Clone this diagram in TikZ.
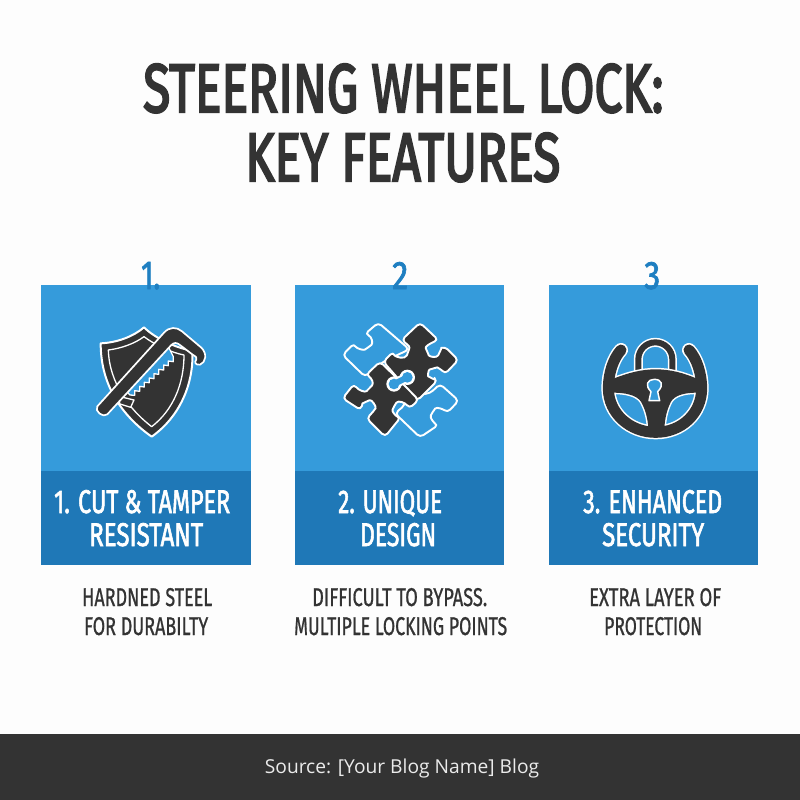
\documentclass[tikz,border=0pt]{standalone}
\usepackage{fontspec}
\usepackage{graphicx}
\setmainfont{Fira Sans}
\newfontfamily\heavyface{Fira Sans}[FakeBold=3.5]
\newfontfamily\headface{Fira Sans}[FakeBold=2.2]
\newfontfamily\descface{Fira Sans}[FakeBold=1.0]
\newfontfamily\numface{Fira Sans}[FakeBold=2.0]
\newfontfamily\footface{Open Sans}
\definecolor{bgc}{HTML}{FDFDFD}
\definecolor{lightblue}{HTML}{359BDB}
\definecolor{darkblue}{HTML}{1F78B7}
\definecolor{numblue}{HTML}{1F7FC1}
\definecolor{ink}{HTML}{333333}
\definecolor{foot}{HTML}{333333}
\newcommand{\fitline}[7]{% name, x0, x1, baseline, height, colour, text
  \pgfmathsetmacro{\fw}{#3-#2}
  \node[anchor=base west,inner sep=0pt,text=#6] (#1) at (#2,#4) {\resizebox{\fw pt}{#5 pt}{#7}};}
\tikzset{
  panel/.style={fill=lightblue,draw=none},
  band/.style={fill=darkblue,draw=none},
  pieceDark/.style={fill=ink,draw=white,line width=1.9pt,rounded corners=4pt,line join=round},
  pieceOpen/.style={fill=lightblue,draw=white,line width=1.9pt,rounded corners=4pt,line join=round},
  zoomA/.style={shift={(80,310)},x=0.33333pt,y=-0.33333pt},
  zoomB/.style={shift={(330,310)},x=0.33333pt,y=-0.33333pt},
  zoomC/.style={shift={(585,310)},x=0.33333pt,y=-0.33333pt},
}
\begin{document}
\begin{tikzpicture}[x=1pt,y=-1pt]
\useasboundingbox (0,0) rectangle (800,800);
\fill[bgc] (0,0) rectangle (800,800);
% panels
\fill[panel] (41,285) rectangle (251,471);
\fill[band] (41,471) rectangle (251,565);
\fill[panel] (295,285) rectangle (504,471);
\fill[band] (295,471) rectangle (504,565);
\fill[panel] (549,285) rectangle (758,471);
\fill[band] (549,471) rectangle (758,565);
\fill[foot] (0,734) rectangle (800,800);
% title
\fitline{t1}{143}{663}{112}{48}{ink}{\heavyface STEERING WHEEL LOCK:}
\fitline{t2}{245}{560}{181}{48}{ink}{\heavyface KEY FEATURES}
% numbers
\fitline{n1}{141}{160}{289}{27}{numblue}{\numface 1.}
\fitline{n2}{392}{408}{289}{27}{numblue}{\numface 2}
\fitline{n3}{644}{660}{289}{27}{numblue}{\numface 3}
% headings
\fitline{h1a}{54}{230}{513}{23}{white}{\headface 1. CUT \& TAMPER}
\fitline{h1b}{89}{203}{546}{23}{white}{\headface RESISTANT}
\fitline{h2a}{338}{442}{513}{23}{white}{\headface 2. UNIQUE}
\fitline{h2b}{360}{436}{546}{23}{white}{\headface DESIGN}
\fitline{h3a}{583}{722}{513}{23}{white}{\headface 3. ENHANCED}
\fitline{h3b}{602}{704}{546}{23}{white}{\headface SECURITY}
% descriptions
\fitline{d1a}{82}{212}{606}{18}{ink}{\descface HARDNED STEEL}
\fitline{d1b}{84}{208}{635}{18}{ink}{\descface FOR DURABILTY}
\fitline{d2a}{312}{487}{606}{18}{ink}{\descface DIFFICULT TO BYPASS.}
\fitline{d2b}{294}{507}{635}{18}{ink}{\descface MULTIPLE LOCKING POINTS}
\fitline{d3a}{589}{721}{606}{18}{ink}{\descface EXTRA LAYER OF}
\fitline{d3b}{604}{702}{635}{18}{ink}{\descface PROTECTION}
% footer
\node[anchor=base,inner sep=0pt,text=white!92!black,font=\footface\fontsize{19.2}{21}\selectfont] (src) at (402,773) {Source: [Your Blog Name] Blog};

% ---- icon 1: shield and saw
\begin{scope}[zoomA]
\draw[fill=ink,draw=white,line width=2pt,line join=round]
  (62,100) .. controls (110,98) and (160,80) .. (192,52)
  .. controls (225,85) and (290,115) .. (337,122)
  .. controls (342,220) and (300,320) .. (215,380)
  .. controls (130,320) and (62,230) .. (62,100) -- cycle;
\draw[white,line width=1.3pt,line join=round]
  (85,120) .. controls (125,115) and (165,100) .. (192,80)
  .. controls (225,105) and (275,128) .. (312,135)
  .. controls (312,220) and (280,300) .. (215,350)
  .. controls (150,300) and (88,220) .. (85,120) -- cycle;
\fill[lightblue,draw=white,line width=1.3pt,line join=round]
  (265,110) -- (135,240) -- (150,255) -- (164,256) -- (164,242) -- (179,244) -- (179,229) -- (193,231) -- (193,217)
  -- (208,218) -- (208,204) -- (222,206) -- (222,191) -- (236,193) -- (236,178) -- (251,180)
  -- (251,165) -- (265,167) -- (265,153) -- (280,155) -- (280,140) -- cycle;
\draw[fill=ink,draw=white,line width=1.3pt,line join=round]
  (112,258) -- (162,270) -- (152,292) -- (120,282) -- cycle;
\draw[fill=ink,draw=white,line width=1.7pt,line join=round]
  (52,289) -- (252,68) .. controls (268,50) and (290,50) .. (306,64)
  -- (364,113) .. controls (382,130) and (378,158) .. (360,164)
  .. controls (346,166) and (342,156) .. (349,149) .. controls (352,143) and (348,140) .. (338,134)
  -- (300,105) .. controls (290,97) and (282,97) .. (274,105)
  -- (82,313) .. controls (70,325) and (42,303) .. (52,289) -- cycle;
\end{scope}

% ---- icon 2: puzzle
\begin{scope}[zoomB]
\draw[pieceOpen] (145,38) -- (238,118) -- (160,155) -- (105,200) -- (38,135) -- (72,100)
  .. controls (80,115) and (100,122) .. (115,112) .. controls (130,100) and (125,80) .. (105,72) -- cycle;
\draw[pieceOpen] (330,222) -- (386,272) -- (352,308)
  .. controls (340,298) and (320,290) .. (308,305) .. controls (298,325) and (315,340) .. (325,345)
  -- (270,382) -- (195,310) -- (225,285) -- (225,258) -- (300,250) -- cycle;
\draw[pieceDark] (270,38) -- (325,90)
  .. controls (300,100) and (285,110) .. (292,125) .. controls (298,140) and (320,145) .. (330,125)
  .. controls (333,118) and (338,112) .. (345,110) -- (385,150) -- (345,192)
  .. controls (335,180) and (322,172) .. (310,175) .. controls (295,180) and (293,198) .. (305,205)
  .. controls (312,208) and (318,208) .. (322,212) -- (262,272) -- (160,155) -- (190,125)
  .. controls (195,140) and (225,150) .. (235,125) .. controls (240,108) and (225,98) .. (215,90) -- cycle;
\draw[pieceDark] (150,155) -- (225,228) -- (266,270) -- (238,295)
  .. controls (225,278) and (205,270) .. (192,288) .. controls (185,305) and (198,318) .. (212,322)
  -- (165,380) -- (110,325) -- (130,305)
  .. controls (140,290) and (125,268) .. (108,275) .. controls (98,280) and (95,290) .. (92,300)
  -- (38,265) -- (72,222)
  .. controls (85,240) and (105,248) .. (118,235) .. controls (132,220) and (125,205) .. (108,195) -- cycle;
% centre opening
\fill[white] (192,222) circle[radius=23] (232,202) circle[radius=23];
\draw[white,line width=10pt] (192,222) -- (232,202);
\fill[lightblue] (192,222) circle[radius=16] (232,202) circle[radius=16];
\draw[lightblue,line width=6pt] (192,222) -- (232,202);
\end{scope}

% ---- icon 3: wheel and lock
\begin{scope}[zoomC]
\draw[white,line width=9pt,line cap=butt] (160,195) -- (160,148) arc[start angle=180,end angle=360,radius=51] -- (262,195);
\draw[ink,line width=6pt,line cap=butt] (160,195) -- (160,148) arc[start angle=180,end angle=360,radius=51] -- (262,195);
\draw[white,line width=14pt,line cap=round]
  (108,120) .. controls (85,145) and (70,190) .. (70,235) .. controls (70,310) and (135,367) .. (212,367)
  .. controls (290,367) and (350,310) .. (350,235) .. controls (350,190) and (335,145) .. (312,120);
\fill[white,draw=white,line width=3pt,line join=round]
  (80,208) .. controls (130,188) and (170,178) .. (212,178) .. controls (255,178) and (295,188) .. (340,208)
  -- (335,248) .. controls (300,248) and (270,255) .. (258,275) .. controls (245,300) and (240,325) .. (238,355)
  -- (190,355) .. controls (188,325) and (182,300) .. (168,275) .. controls (155,255) and (120,248) .. (85,248) -- cycle;
\draw[ink,line width=11pt,line cap=round]
  (108,120) .. controls (85,145) and (70,190) .. (70,235) .. controls (70,310) and (135,367) .. (212,367)
  .. controls (290,367) and (350,310) .. (350,235) .. controls (350,190) and (335,145) .. (312,120);
\fill[ink]
  (80,208) .. controls (130,188) and (170,178) .. (212,178) .. controls (255,178) and (295,188) .. (340,208)
  -- (335,248) .. controls (300,248) and (270,255) .. (258,275) .. controls (245,300) and (240,325) .. (238,355)
  -- (190,355) .. controls (188,325) and (182,300) .. (168,275) .. controls (155,255) and (120,248) .. (85,248) -- cycle;
\draw[fill=lightblue,draw=white,line width=1.5pt,line join=round]
  (198,245) .. controls (178,225) and (188,208) .. (208,208)
  .. controls (230,208) and (238,225) .. (218,245) -- (224,272) -- (192,272) -- cycle;
\end{scope}
\end{tikzpicture}
\end{document}
